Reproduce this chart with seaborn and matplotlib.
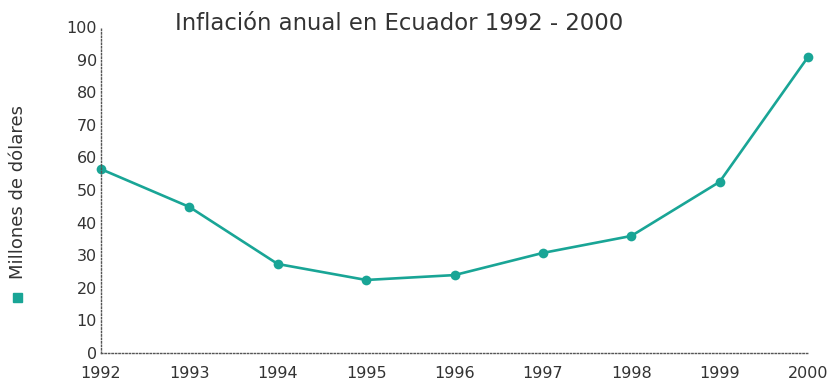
import matplotlib
matplotlib.use("Agg")
import matplotlib.pyplot as plt
import seaborn as sns
import pandas as pd

years = [1992, 1993, 1994, 1995, 1996, 1997, 1998, 1999, 2000]
inflation = [56.4, 44.8, 27.3, 22.4, 23.9, 30.7, 35.9, 52.5, 90.8]
y_ticks = [0, 10, 20, 30, 40, 50, 60, 70, 80, 90, 100]

title = "Inflación anual en Ecuador 1992 - 2000"
y_label = "Millones de dólares"
teal = "#19a596"
text_color = "#333333"

sns.set_theme(style="white")
plt.rcParams["font.family"] = ["DejaVu Sans"]

df = pd.DataFrame({"year": years, "value": inflation})

fig = plt.figure(figsize=(8.38, 3.81), dpi=100)
ax = fig.add_axes([101 / 838, 1 - 353 / 381, (808 - 101) / 838, (353 - 27) / 381])

sns.lineplot(data=df, x="year", y="value", ax=ax, color=teal, linewidth=1.9,
             marker="o", markersize=7, markeredgewidth=0, clip_on=False)

ax.set_xlim(1992, 2000)
ax.set_ylim(0, 100)
ax.set_xticks(years)
ax.set_xticklabels([str(y) for y in years])
ax.set_yticks(y_ticks)
ax.tick_params(axis="both", length=0, labelsize=11.5, colors=text_color)
ax.tick_params(axis="x", pad=9)
ax.tick_params(axis="y", pad=3)
ax.set_xlabel("")
ax.set_ylabel("")

for side in ("top", "right"):
    ax.spines[side].set_visible(False)
for side in ("left", "bottom"):
    ax.spines[side].set_visible(True)
    ax.spines[side].set_linestyle((0, (1, 1.5)))
    ax.spines[side].set_linewidth(1.0)
    ax.spines[side].set_color("#555555")

fig.text(399 / 838, 1 - 23 / 381, title, ha="center", va="center",
         fontsize=16.4, color=text_color)

# rotated series label with a small teal key square
fig.text(18 / 838, 1 - 192 / 381, y_label, rotation=90, ha="center", va="center",
         fontsize=13, color=text_color)
fig.patches.append(plt.Rectangle((13 / 838, 1 - 302 / 381), 9 / 838, 9 / 381,
                                 transform=fig.transFigure, color=teal))

fig.savefig("out.png", dpi=100)
